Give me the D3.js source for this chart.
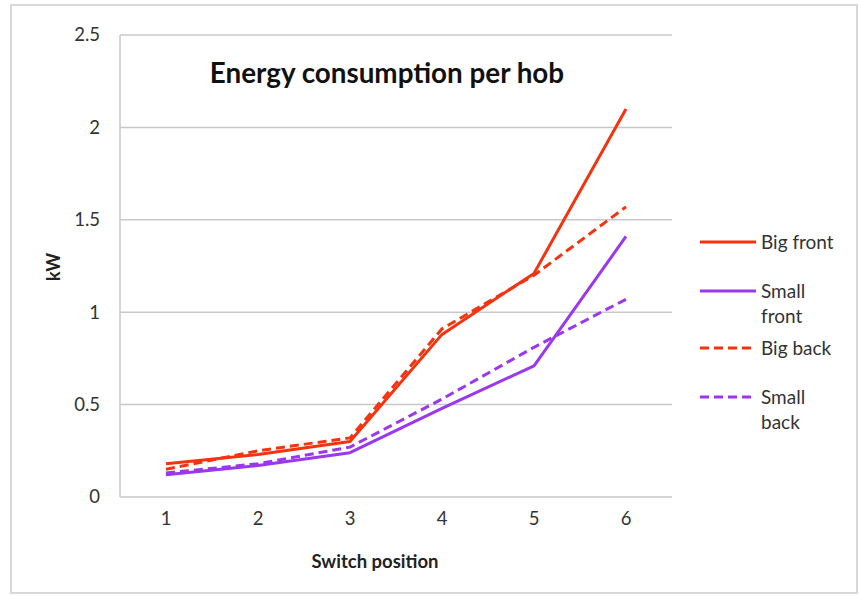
<!DOCTYPE html>
<html>
<head>
<meta charset="utf-8">
<script src="https://cdn.jsdelivr.net/npm/d3@7"></script>
<style>
  html, body { margin: 0; padding: 0; background: #fff; }
  svg { display: block; font-family: Lato, "Open Sans", sans-serif; }
</style>
</head>
<body>
<svg id="chart" width="859" height="596"></svg>
<script>
// Switch positions on the x axis
const positions = [1, 2, 3, 4, 5, 6];
// Power draw in kW per hob at each switch position
const bigFront   = [0.18, 0.23, 0.30, 0.88, 1.21, 2.10];
const smallFront = [0.12, 0.17, 0.24, 0.48, 0.71, 1.41];
const bigBack    = [0.15, 0.25, 0.32, 0.91, 1.20, 1.57];
const smallBack  = [0.13, 0.18, 0.27, 0.53, 0.81, 1.07];
const yTicks = [0, 0.5, 1, 1.5, 2, 2.5];

const RED = "#f5330f";
const PURPLE = "#9b37ec";
const FONT = "Lato, 'Open Sans', sans-serif";

const series = [
  { name: ["Big front"],        values: bigFront,   color: RED,    dash: null },
  { name: ["Small", "front"],   values: smallFront, color: PURPLE, dash: null },
  { name: ["Big back"],         values: bigBack,    color: RED,    dash: "9,5" },
  { name: ["Small", "back"],    values: smallBack,  color: PURPLE, dash: "9,5" }
];

const svg = d3.select("#chart");

// outer chart frame
svg.append("rect")
  .attr("x", 11).attr("y", 5).attr("width", 846).attr("height", 588)
  .attr("fill", "#fff").attr("stroke", "#d9d9d9").attr("stroke-width", 2);

const plot = { left: 120, right: 672, top: 35, bottom: 497 };

const x = d3.scaleBand().domain(positions).range([plot.left, plot.right]);
const y = d3.scaleLinear().domain([0, 2.5]).range([plot.bottom, plot.top]);

// horizontal gridlines
svg.append("g").selectAll("line").data(yTicks).join("line")
  .attr("x1", plot.left).attr("x2", plot.right)
  .attr("y1", d => y(d)).attr("y2", d => y(d))
  .attr("stroke", "#c8c8c8").attr("stroke-width", 1.5);

// left axis line
svg.append("line")
  .attr("x1", plot.left).attr("x2", plot.left)
  .attr("y1", plot.top).attr("y2", plot.bottom)
  .attr("stroke", "#c8c8c8").attr("stroke-width", 1.5);

// y tick labels
const yAxis = d3.axisLeft(y).tickValues(yTicks).tickSize(0).tickPadding(20)
  .tickFormat(d => d === 0 ? "0" : String(d));
const gy = svg.append("g").attr("transform", `translate(${plot.left},0)`).call(yAxis);
gy.select(".domain").remove();
gy.selectAll("text").attr("font-size", 18.5).attr("fill", "#333")
  .attr("font-family", FONT);

// x tick labels
const xAxis = d3.axisBottom(x).tickSize(0).tickPadding(15);
const gx = svg.append("g").attr("transform", `translate(0,${plot.bottom})`).call(xAxis);
gx.select(".domain").remove();
gx.selectAll("text").attr("font-size", 18.5).attr("fill", "#333")
  .attr("font-family", FONT);

// axis titles
svg.append("text")
  .attr("x", 375).attr("y", 568)
  .attr("text-anchor", "middle")
  .attr("font-size", 18.5).attr("font-weight", "bold").attr("fill", "#222")
  .text("Switch position");

svg.append("text")
  .attr("transform", "translate(60,267) rotate(-90)")
  .attr("text-anchor", "middle")
  .attr("font-size", 18).attr("font-weight", "bold").attr("fill", "#222")
  .text("kW");

// chart title
svg.append("text")
  .attr("x", 387).attr("y", 83)
  .attr("text-anchor", "middle")
  .attr("font-size", 27.8).attr("font-weight", "bold").attr("fill", "#111")
  .text("Energy consumption per hob");

// series lines
const cx = d => x(d) + x.bandwidth() / 2;
const line = d3.line()
  .x((v, i) => cx(positions[i]))
  .y(v => y(v));

svg.append("g").selectAll("path").data(series).join("path")
  .attr("d", s => line(s.values))
  .attr("fill", "none")
  .attr("stroke", s => s.color)
  .attr("stroke-width", 3)
  .attr("stroke-dasharray", s => s.dash)
  .attr("stroke-linejoin", "round");

// legend
const legendY = [242, 291, 348, 397];
const lg = svg.append("g");
series.forEach((s, i) => {
  const g = lg.append("g").attr("transform", `translate(0,${legendY[i]})`);
  g.append("line")
    .attr("x1", 700).attr("x2", 756).attr("y1", 0).attr("y2", 0)
    .attr("stroke", s.color).attr("stroke-width", 3)
    .attr("stroke-dasharray", s.dash);
  s.name.forEach((t, j) => {
    g.append("text")
      .attr("x", 761).attr("y", 7 + j * 25)
      .attr("font-size", 19).attr("fill", "#333")
      .attr("font-family", FONT)
      .text(t);
  });
});
</script>
</body>
</html>
